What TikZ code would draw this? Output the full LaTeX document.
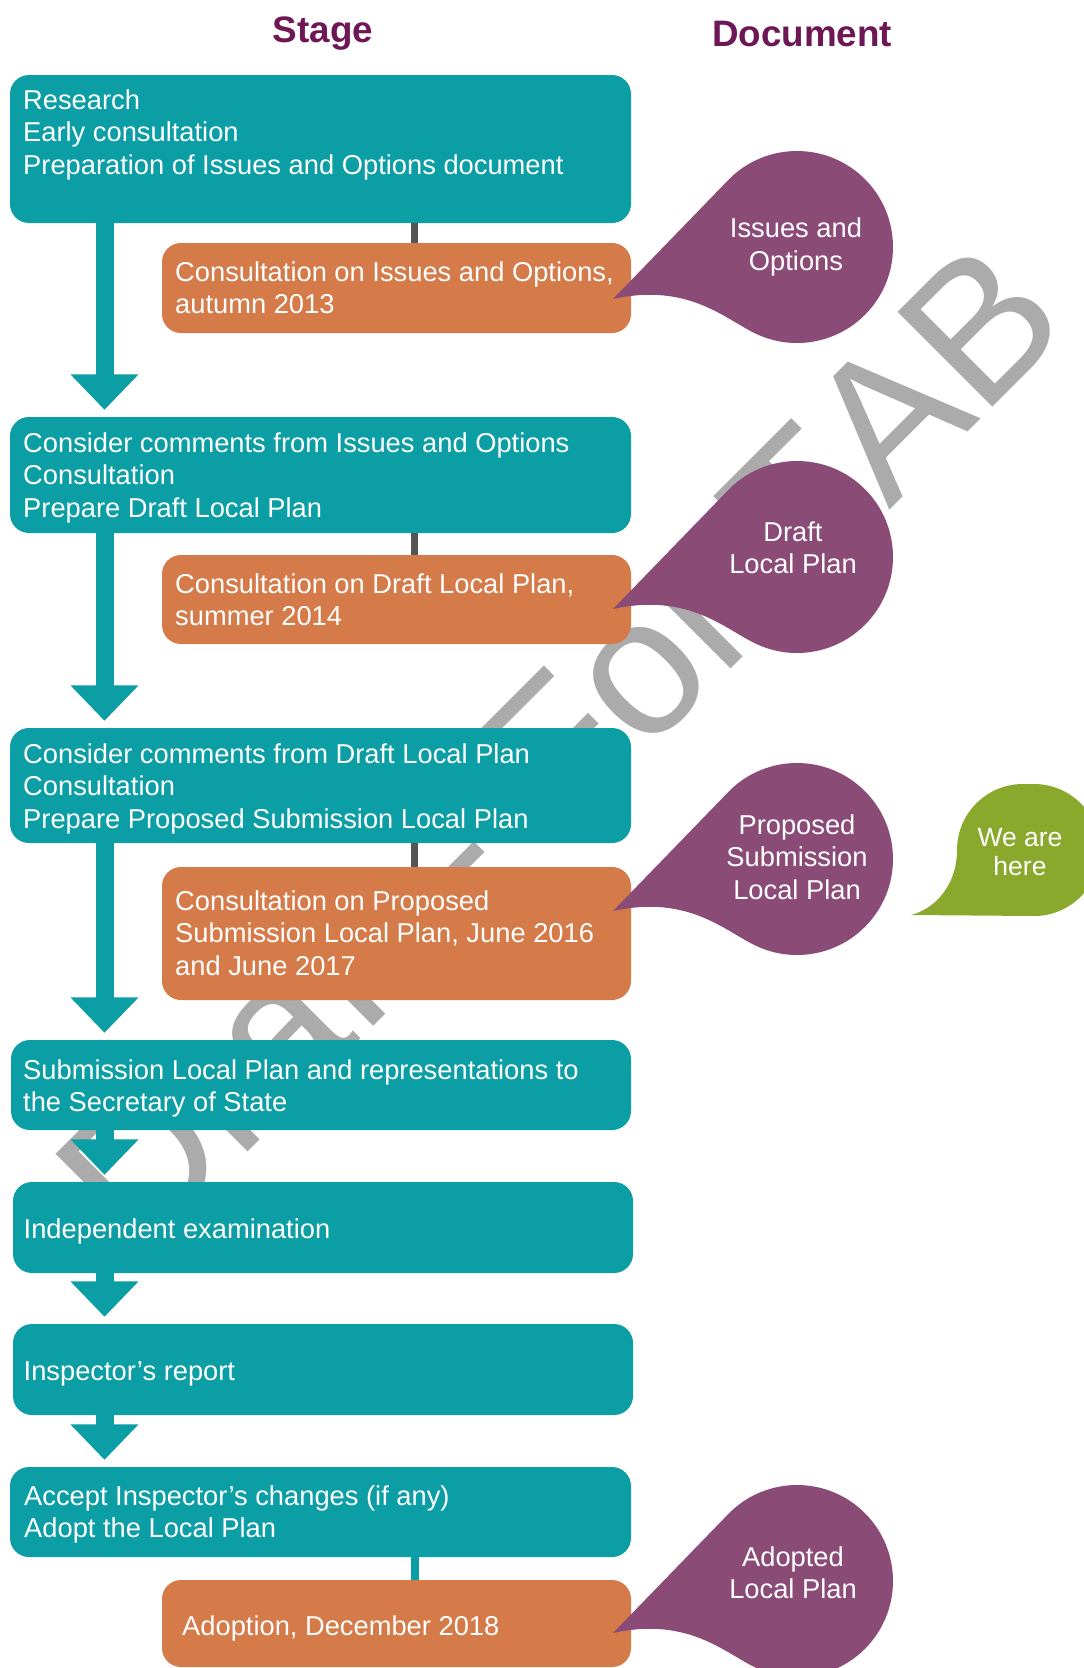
\documentclass[tikz,border=0pt]{standalone}
\usepackage{fontspec}
\setmainfont{Liberation Sans}
\newfontfamily\wmfont[Kerning=Off]{Liberation Sans}
\usetikzlibrary{arrows.meta,calc}
\definecolor{tealbox}{HTML}{0B9EA4}
\definecolor{orangebox}{HTML}{D57A49}
\definecolor{bubblepurple}{HTML}{8B4B77}
\definecolor{heregreen}{HTML}{8AA82B}
\definecolor{headpurple}{HTML}{6E1756}
\definecolor{watergray}{HTML}{ABABAB}
\definecolor{linkgray}{HTML}{555555}
\tikzset{
  bubble/.pic={\fill[bubblepurple] (-184,-52) -- (137.6:96) arc[start angle=137.6, end angle=-113, radius=96] .. controls (-69.7,-74.7) and (-105.9,-34.8) .. (-184,-52) -- cycle;}
}
\begin{document}
\begin{tikzpicture}[x=1pt,y=1pt,
  boxbase/.style={rounded corners=19pt, inner sep=0pt, draw=none},
  stagebox/.style={boxbase, fill=tealbox},
  consultbox/.style={boxbase, fill=orangebox},
  bodytext/.style={text=white, font=\fontsize{27.3}{32.5}\selectfont, align=left, inner sep=0pt, anchor=base west},
  bubbletext/.style={text=white, font=\fontsize{27.3}{32.5}\selectfont, align=center, inner sep=0pt, anchor=base},
  header/.style={text=headpurple, font=\fontsize{36.8}{40}\selectfont\bfseries, inner sep=0pt, anchor=base},
  flow/.style={draw=tealbox, line width=18pt, -{Triangle[width=66pt,length=35.5pt]}},
  link/.style={draw=linkgray, line width=7.5pt},
  watermark/.style={text=watergray, font=\wmfont\fontsize{195}{200}\selectfont, rotate=45, anchor=base west, inner sep=0pt},
]
\useasboundingbox (0,0) rectangle (1084,-1668);
\fill[white] (0,0) rectangle (1084,-1668);
\clip (0,0) rectangle (1084,-1668);

% watermark
\node[watermark] (wm) at (139,-1261) {Draft - For TAB};

% headers
\node[header] (hstage) at (323,-42) {Stage};
\node[header] (hdoc) at (802,-46) {Document};

% stage boxes
\node[stagebox, minimum width=621pt, minimum height=148pt] (b1) at (320.5,-149) {};
\node[consultbox, minimum width=469pt, minimum height=90pt] (o1) at (396.5,-288) {};
\node[stagebox, minimum width=621pt, minimum height=116pt] (b2) at (320.5,-475) {};
\node[consultbox, minimum width=469pt, minimum height=89pt] (o2) at (396.5,-599.5) {};
\node[stagebox, minimum width=621pt, minimum height=115pt] (b3) at (320.5,-785.5) {};
\node[consultbox, minimum width=469pt, minimum height=133pt] (o3) at (396.5,-933.5) {};
\node[stagebox, minimum width=620pt, minimum height=90pt] (b4) at (321,-1085) {};
\node[stagebox, minimum width=620pt, minimum height=91pt] (b5) at (323,-1227.5) {};
\node[stagebox, minimum width=620pt, minimum height=91pt] (b6) at (323,-1369.5) {};
\node[stagebox, minimum width=621pt, minimum height=90pt] (b7) at (320.5,-1512) {};
\node[consultbox, minimum width=469pt, minimum height=87pt] (o4) at (396.5,-1623.5) {};

% links
\coordinate (cx) at (414.5,0);
\draw[link] (b1.south -| cx) -- (o1.north -| cx);
\draw[link] (b2.south -| cx) -- (o2.north -| cx);
\draw[link] (b3.south -| cx) -- (o3.north -| cx);
\draw[link, draw=tealbox, line width=8pt] (b7.south -| cx) -- (o4.north -| cx);

% flow arrows
\coordinate (ax) at (104.5,0);
\draw[flow] (b1.south -| ax) -- ($(b2.north -| ax)+(0,7)$);
\draw[flow] (b2.south -| ax) -- ($(b3.north -| ax)+(0,7)$);
\draw[flow] (b3.south -| ax) -- ($(b4.north -| ax)+(0,7)$);
\draw[flow] (b4.south -| ax) -- ($(b5.north -| ax)+(0,7)$);
\draw[flow] (b5.south -| ax) -- ($(b6.north -| ax)+(0,7)$);
\draw[flow] (b6.south -| ax) -- ($(b7.north -| ax)+(0,7)$);

% box texts (anchored at the baseline of the last line)
\node[bodytext] (t1) at (23,-174) {Research\\Early consultation\\Preparation of Issues and Options document};
\node[bodytext] (to1) at (175,-313.5) {Consultation on Issues and Options,\\autumn 2013};
\node[bodytext] (t2) at (23,-517) {Consider comments from Issues and Options\\Consultation\\Prepare Draft Local Plan};
\node[bodytext] (to2) at (175,-625.5) {Consultation on Draft Local Plan,\\summer 2014};
\node[bodytext] (t3) at (23,-828) {Consider comments from Draft Local Plan\\Consultation\\Prepare Proposed Submission Local Plan};
\node[bodytext] (to3) at (175,-975) {Consultation on Proposed\\Submission Local Plan, June 2016\\and June 2017};
\node[bodytext] (t4) at (23,-1111.5) {Submission Local Plan and representations to\\the Secretary of State};
\node[bodytext] (t5) at (23.5,-1238) {Independent examination};
\node[bodytext] (t6) at (23.5,-1380) {Inspector’s report};
\node[bodytext] (t7) at (24,-1537.5) {Accept Inspector’s changes (if any)\\Adopt the Local Plan};
\node[bodytext] (to4) at (182,-1635) {Adoption, December 2018};

% document bubbles
\pic at (797,-247) {bubble};
\pic at (797,-557) {bubble};
\pic at (797,-859) {bubble};
\pic at (797,-1581) {bubble};
\node[bubbletext] (d1) at (796,-270) {Issues and\\Options};
\node[bubbletext] (d2) at (793,-573.5) {Draft\\Local Plan};
\node[bubbletext] (d3) at (797,-899) {Proposed\\Submission\\Local Plan};
\node[bubbletext] (d4) at (793,-1598.5) {Adopted\\Local Plan};

% we are here
\fill[heregreen] (911,-915) -- (1034,-916) arc[start angle=-90, end angle=90, radius=66] -- (1023,-784) arc[start angle=90, end angle=180, radius=66] .. controls (957,-885) and (935,-909) .. (911,-915) -- cycle;
\node[bubbletext, font=\fontsize{26.5}{28.3}\selectfont] (here) at (1020,-875) {We are\\here};
\end{tikzpicture}
\end{document}
